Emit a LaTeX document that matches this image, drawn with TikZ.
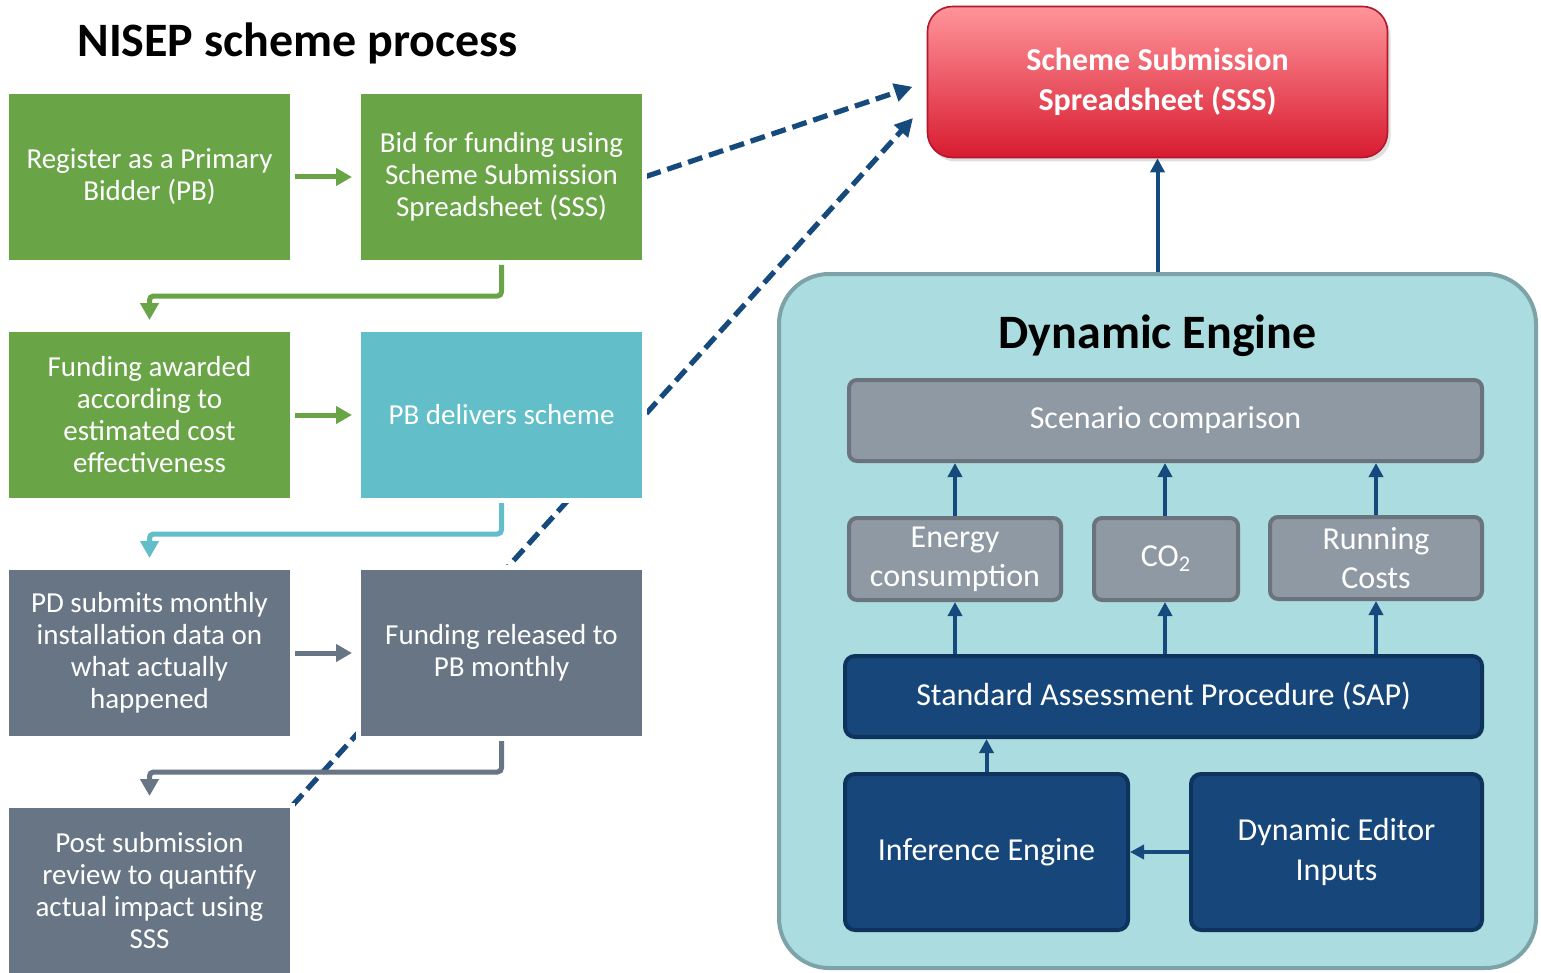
\documentclass[tikz,border=0pt]{standalone}
\usepackage{fontspec}
\setmainfont{Carlito}
\usetikzlibrary{arrows.meta,shadows,calc}
\definecolor{cgreen}{HTML}{69A447}
\definecolor{cteal}{HTML}{62BEC8}
\definecolor{cslate}{HTML}{687584}
\definecolor{cdash}{HTML}{174A7C}
\definecolor{sstop}{HTML}{FF959A}
\definecolor{ssbot}{HTML}{D81B30}
\definecolor{ssedge}{HTML}{B3172B}
\definecolor{engfill}{HTML}{AADCE0}
\definecolor{engedge}{HTML}{7DA3A8}
\definecolor{gfill}{HTML}{8F99A3}
\definecolor{gedge}{HTML}{6B737C}
\definecolor{bfill}{HTML}{17477A}
\definecolor{bedge}{HTML}{0E335C}
\tikzset{
  lbox/.style={minimum width=143pt, minimum height=85.5pt, draw=white, line width=2.5pt,
    outer sep=0pt, inner sep=0pt, text=white, align=center,
    font=\fontsize{14.5}{16}\selectfont},
  harr/.style={line width=2.5pt, -{Triangle[length=8pt,width=8.5pt]}, shorten <=1.25pt, shorten >=3.25pt},
  elb/.style={line width=2.5pt, rounded corners=2pt, -{Triangle[length=8.5pt,width=9pt]}, shorten <=1.25pt, shorten >=4.75pt},
  dashline/.style={line width=2.6pt, cdash, dash pattern=on 7.5pt off 3.5pt, -{Triangle[length=9pt,width=9pt]}},
  gbox/.style={draw=gedge, fill=gfill, line width=2pt, rounded corners=4pt, text=white, align=center,
    inner sep=0pt, font=\fontsize{16}{19.5}\selectfont},
  bbox/.style={draw=bedge, fill=bfill, line width=2pt, rounded corners=5pt, text=white, align=center,
    inner sep=0pt, font=\fontsize{16}{20}\selectfont},
  earr/.style={line width=2pt, cdash, -{Triangle[length=7pt,width=7pt]}},
}
\begin{document}
\begin{tikzpicture}[x=0.5pt,y=-0.5pt]
\useasboundingbox (0,0) rectangle (1541,973);
\fill[white] (0,0) rectangle (1541,973);
\clip (0,0) rectangle (1541,973);

% title
\node[anchor=base west, inner sep=0pt, font=\bfseries\fontsize{24}{28}\selectfont] (title) at (77,57) {NISEP scheme process};

% coordinates for dashed line ends
\coordinate (d2end) at (913,118);

% SSS box
\node[draw=ssedge, line width=0.8pt, top color=sstop, bottom color=ssbot, rounded corners=12.5pt,
  minimum width=230pt, minimum height=75.5pt, text=white, align=center, inner sep=0pt,
  font=\bfseries\fontsize{16}{20}\selectfont,
  drop shadow={opacity=0.25, shadow xshift=1.5pt, shadow yshift=-2pt}] (sss) at (1157.5,82)
  {Scheme Submission\\Spreadsheet (SSS)};

% left boxes positions (nodes drawn after dashed lines)
\path (149.5,177) coordinate (p11) (501.5,177) coordinate (p12)
      (149.5,415) coordinate (p21) (501.5,415) coordinate (p22)
      (149.5,653) coordinate (p31) (501.5,653) coordinate (p32)
      (149.5,891) coordinate (p41);

% invisible helper nodes for dashed line starts
\node[lbox, draw=none, text=white, fill=none] (bidh) at (p12) {};
\node[lbox, draw=none, fill=none] (posth) at (p41) {};

\draw[dashline, shorten <=1pt, shorten >=7.5pt] (bidh.east) -- (sss.west);
\draw[dashline] (posth.north east) -- (d2end);

% left boxes
\node[lbox, fill=cgreen] (reg) at (p11) {Register as a Primary\\Bidder (PB)};
\node[lbox, fill=cgreen] (bid) at (p12) {Bid for funding using\\Scheme Submission\\Spreadsheet (SSS)};
\node[lbox, fill=cgreen] (fund) at (p21) {Funding awarded\\according to\\estimated cost\\effectiveness};
\node[lbox, fill=cteal] (pbd) at (p22) {PB delivers scheme};
\node[lbox, fill=cslate] (pds) at (p31) {PD submits monthly\\installation data on\\what actually\\happened};
\node[lbox, fill=cslate] (frm) at (p32) {Funding released to\\PB monthly};
\node[lbox, fill=cslate] (post) at (p41) {Post submission\\review to quantify\\actual impact using\\SSS};

% left connectors
\draw[harr, cgreen] (reg.east) -- (bid.west);
\draw[harr, cgreen] (fund.east) -- (pbd.west);
\draw[harr, cslate] (pds.east) -- (frm.west);
\draw[elb, cgreen] (bid.south) -- ++(0,33.5) -| (fund.north);
\draw[elb, cteal] (pbd.south) -- ++(0,33.5) -| (pds.north);
\draw[elb, cslate] (frm.south) -- ++(0,33.5) -| (post.north);

% Dynamic engine
\node[draw=engedge, fill=engfill, line width=2pt, rounded corners=25pt,
  minimum width=378.5pt, minimum height=347pt] (eng) at (1157.5,621) {};
\node[anchor=base, inner sep=0pt, font=\bfseries\fontsize{24}{28}\selectfont] (engt) at (1157.5,348) {Dynamic Engine};

\node[gbox, minimum width=316.5pt, minimum height=40.5pt] (scen) at (1165.5,420.5) {Scenario comparison};
\node[gbox, minimum width=106pt, minimum height=41pt] (energy) at (955,559) {Energy\\consumption};
\node[gbox, minimum width=72pt, minimum height=41pt] (co2) at (1166,559) {CO\textsubscript{2}};
\node[gbox, minimum width=106pt, minimum height=41pt] (run) at (1376,558) {Running\\Costs};
\node[bbox, minimum width=318.5pt, minimum height=40.5pt] (sap) at (1163.5,696.5) {Standard Assessment Procedure (SAP)};
\node[bbox, minimum width=141.5pt, minimum height=78pt] (inf) at (986.5,852) {Inference Engine};
\node[bbox, minimum width=145.5pt, minimum height=78pt] (dei) at (1336.5,852) {Dynamic Editor\\Inputs};

% engine arrows
\draw[earr] (energy.north) -- (energy.north |- scen.south);
\draw[earr] (co2.north -| 1165,0) -- (scen.south -| 1165,0);
\draw[earr] (run.north) -- (run.north |- scen.south);
\draw[earr] (energy.south |- sap.north) -- (energy.south);
\draw[earr] (sap.north -| 1165,0) -- (co2.south -| 1165,0);
\draw[earr] (run.south |- sap.north) -- (run.south);
\draw[earr] (inf.north) -- (inf.north |- sap.south);
\draw[earr] (dei.west) -- (inf.east);
\draw[earr] (eng.north -| sss.south) -- (sss.south);
\end{tikzpicture}
\end{document}
